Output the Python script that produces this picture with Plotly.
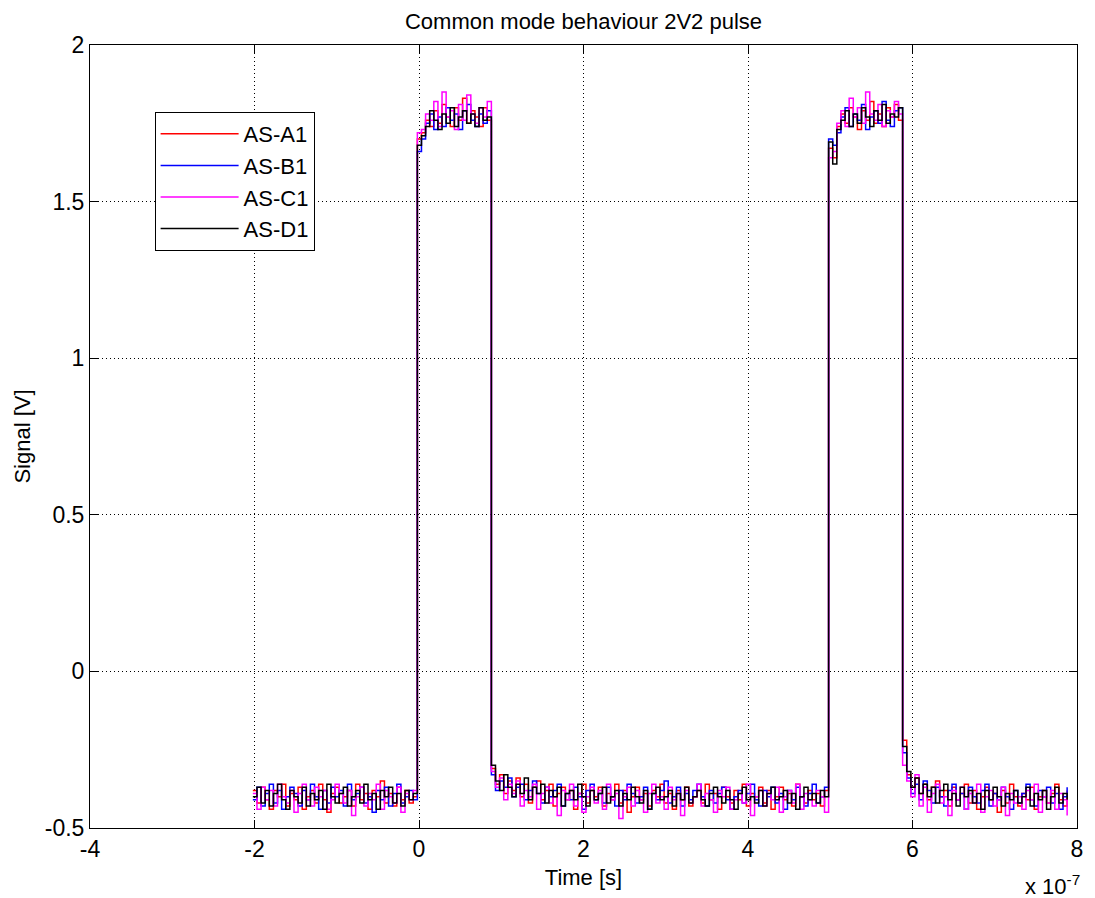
import plotly.graph_objects as go

# Sampling times in ns (uniform 5 ns grid from -200 ns to 790 ns)
t_ns = list(range(-200, 791, 5))

# ---- series values (V) ----
as_a1 = [
    # -200 .. -5 ns (low)
    -0.38, -0.42, -0.37, -0.41, -0.44, -0.38, -0.40, -0.36, -0.43, -0.39,
    -0.41, -0.37, -0.44, -0.40, -0.38, -0.42, -0.36, -0.41, -0.45, -0.39,
    -0.37, -0.42, -0.40, -0.38, -0.43, -0.36, -0.41, -0.39, -0.44, -0.38,
    -0.40, -0.35, -0.42, -0.39, -0.43, -0.37, -0.41, -0.38, -0.42, -0.40,
    # 0 .. 85 ns (high)
    1.70,
    1.72, 1.76, 1.74, 1.79, 1.75, 1.81, 1.77, 1.74, 1.80, 1.76, 1.83, 1.75, 1.79, 1.77, 1.74, 1.80, 1.76,
    # 90 .. 495 ns (low)
    -0.31, -0.36, -0.33, -0.39, -0.35, -0.38, -0.34, -0.40, -0.36, -0.42,
    -0.37, -0.35, -0.41, -0.38, -0.36, -0.43, -0.39, -0.37, -0.41, -0.38,
    -0.44, -0.39, -0.36, -0.42, -0.38, -0.40, -0.37, -0.43, -0.39, -0.41,
    -0.36, -0.42, -0.38, -0.45, -0.40, -0.37, -0.41, -0.39, -0.43, -0.38,
    -0.40, -0.36, -0.42, -0.39, -0.44, -0.38, -0.41, -0.37, -0.43, -0.40,
    -0.38, -0.42, -0.36, -0.41, -0.39, -0.44, -0.37, -0.40, -0.42, -0.38,
    -0.41, -0.36, -0.43, -0.39, -0.40, -0.37, -0.42, -0.38, -0.44, -0.40,
    -0.37, -0.41, -0.39, -0.43, -0.36, -0.40, -0.42, -0.38, -0.41, -0.39,
    -0.43, -0.38,
    # 500 .. 585 ns (high)
    1.67,
    1.64, 1.74, 1.78, 1.75, 1.80, 1.77, 1.73, 1.79, 1.76, 1.82, 1.75, 1.78, 1.74, 1.80, 1.77, 1.81, 1.76,
    # 590 .. 790 ns (low)
    -0.22, -0.33, -0.37, -0.34, -0.39, -0.36, -0.41, -0.37, -0.35, -0.40,
    -0.38, -0.43, -0.37, -0.41, -0.39, -0.36, -0.42, -0.38, -0.44, -0.40,
    -0.37, -0.41, -0.39, -0.45, -0.38, -0.42, -0.36, -0.40, -0.43, -0.39,
    -0.41, -0.37, -0.44, -0.40, -0.38, -0.42, -0.39, -0.36, -0.41, -0.43,
    -0.38,
]

as_b1 = [
    -0.41, -0.37, -0.43, -0.39, -0.36, -0.42, -0.38, -0.44, -0.40, -0.37,
    -0.39, -0.43, -0.38, -0.41, -0.36, -0.40, -0.44, -0.38, -0.42, -0.37,
    -0.40, -0.38, -0.43, -0.36, -0.41, -0.39, -0.37, -0.42, -0.40, -0.45,
    -0.38, -0.41, -0.37, -0.43, -0.39, -0.36, -0.42, -0.40, -0.38, -0.41,
    1.66,
    1.70, 1.75, 1.78, 1.73, 1.77, 1.74, 1.80, 1.76, 1.78, 1.73, 1.79, 1.81, 1.76, 1.74, 1.78, 1.75, 1.79,
    -0.33, -0.38, -0.35, -0.37, -0.34, -0.40, -0.37, -0.36, -0.41, -0.38,
    -0.35, -0.39, -0.42, -0.37, -0.40, -0.38, -0.36, -0.43, -0.39, -0.41,
    -0.37, -0.40, -0.44, -0.38, -0.36, -0.41, -0.39, -0.42, -0.37, -0.40,
    -0.43, -0.38, -0.41, -0.36, -0.39, -0.42, -0.40, -0.37, -0.44, -0.39,
    -0.41, -0.38, -0.35, -0.42, -0.40, -0.37, -0.43, -0.39, -0.41, -0.38,
    -0.36, -0.40, -0.43, -0.38, -0.42, -0.39, -0.37, -0.41, -0.44, -0.40,
    -0.38, -0.42, -0.39, -0.36, -0.41, -0.43, -0.38, -0.40, -0.37, -0.42,
    -0.39, -0.44, -0.38, -0.41, -0.37, -0.40, -0.43, -0.39, -0.36, -0.42,
    -0.40, -0.37,
    1.70,
    1.68, 1.72, 1.77, 1.80, 1.74, 1.78, 1.76, 1.81, 1.73, 1.77, 1.79, 1.75, 1.82, 1.76, 1.74, 1.79, 1.80,
    -0.26, -0.34, -0.39, -0.36, -0.41, -0.35, -0.38, -0.42, -0.37, -0.40,
    -0.43, -0.38, -0.36, -0.41, -0.39, -0.44, -0.37, -0.40, -0.42, -0.38,
    -0.36, -0.43, -0.39, -0.41, -0.37, -0.40, -0.44, -0.38, -0.42, -0.39,
    -0.36, -0.41, -0.43, -0.38, -0.40, -0.37, -0.42, -0.39, -0.44, -0.40,
    -0.37,
]

as_c1 = [
    -0.39, -0.44, -0.37, -0.41, -0.38, -0.43, -0.36, -0.40, -0.42, -0.38,
    -0.45, -0.39, -0.36, -0.41, -0.43, -0.37, -0.40, -0.38, -0.44, -0.41,
    -0.36, -0.39, -0.42, -0.38, -0.46, -0.40, -0.37, -0.43, -0.39, -0.41,
    -0.36, -0.44, -0.38, -0.40, -0.42, -0.37, -0.45, -0.39, -0.41, -0.38,
    1.72,
    1.73, 1.78, 1.76, 1.82, 1.74, 1.85, 1.77, 1.79, 1.73, 1.81, 1.76, 1.84, 1.78, 1.75, 1.80, 1.77, 1.82,
    -0.32, -0.37, -0.34, -0.41, -0.36, -0.39, -0.35, -0.43, -0.38, -0.40,
    -0.36, -0.44, -0.39, -0.37, -0.42, -0.40, -0.46, -0.38, -0.41, -0.36,
    -0.43, -0.39, -0.45, -0.40, -0.37, -0.42, -0.38, -0.44, -0.36, -0.41,
    -0.39, -0.47, -0.40, -0.37, -0.43, -0.38, -0.41, -0.45, -0.39, -0.36,
    -0.42, -0.40, -0.44, -0.37, -0.41, -0.39, -0.46, -0.38, -0.42, -0.40,
    -0.36, -0.43, -0.39, -0.41, -0.45, -0.38, -0.40, -0.37, -0.44, -0.41,
    -0.39, -0.42, -0.36, -0.46, -0.40, -0.38, -0.43, -0.39, -0.41, -0.37,
    -0.45, -0.40, -0.38, -0.42, -0.36, -0.44, -0.39, -0.41, -0.43, -0.38,
    -0.40, -0.45,
    1.64,
    1.66, 1.75, 1.79, 1.74, 1.83, 1.77, 1.80, 1.75, 1.85, 1.78, 1.76, 1.81, 1.74, 1.79, 1.77, 1.82, 1.78,
    -0.30, -0.35, -0.40, -0.33, -0.43, -0.37, -0.45, -0.39, -0.36, -0.42,
    -0.40, -0.46, -0.38, -0.41, -0.37, -0.44, -0.39, -0.42, -0.36, -0.45,
    -0.40, -0.38, -0.43, -0.41, -0.37, -0.46, -0.39, -0.42, -0.40, -0.44,
    -0.38, -0.41, -0.36, -0.45, -0.40, -0.42, -0.38, -0.44, -0.39, -0.41,
    -0.46,
]

as_d1 = [
    -0.40, -0.37, -0.42, -0.38, -0.43, -0.39, -0.36, -0.41, -0.44, -0.38,
    -0.40, -0.42, -0.37, -0.43, -0.39, -0.41, -0.38, -0.44, -0.36, -0.40,
    -0.42, -0.39, -0.37, -0.43, -0.40, -0.38, -0.42, -0.36, -0.41, -0.39,
    -0.44, -0.38, -0.40, -0.37, -0.42, -0.39, -0.43, -0.38, -0.41, -0.39,
    1.68,
    1.71, 1.74, 1.79, 1.76, 1.73, 1.78, 1.75, 1.80, 1.74, 1.77, 1.79, 1.75, 1.78, 1.74, 1.80, 1.76, 1.77,
    -0.30, -0.35, -0.38, -0.33, -0.37, -0.40, -0.36, -0.39, -0.34, -0.41,
    -0.37, -0.39, -0.36, -0.42, -0.38, -0.40, -0.37, -0.43, -0.39, -0.38,
    -0.41, -0.36, -0.40, -0.43, -0.38, -0.41, -0.39, -0.37, -0.42, -0.40,
    -0.38, -0.43, -0.39, -0.41, -0.37, -0.40, -0.42, -0.38, -0.44, -0.39,
    -0.37, -0.41, -0.40, -0.38, -0.43, -0.39, -0.41, -0.37, -0.42, -0.40,
    -0.38, -0.41, -0.43, -0.39, -0.37, -0.40, -0.42, -0.38, -0.41, -0.44,
    -0.39, -0.37, -0.41, -0.40, -0.42, -0.38, -0.43, -0.39, -0.37, -0.41,
    -0.40, -0.38, -0.42, -0.39, -0.44, -0.40, -0.37, -0.41, -0.39, -0.42,
    -0.38, -0.40,
    1.69,
    1.62, 1.73, 1.76, 1.79, 1.74, 1.78, 1.75, 1.80, 1.77, 1.74, 1.79, 1.76, 1.81, 1.75, 1.78, 1.77, 1.80,
    -0.24, -0.32, -0.37, -0.34, -0.39, -0.36, -0.40, -0.37, -0.42, -0.38,
    -0.36, -0.41, -0.39, -0.43, -0.37, -0.40, -0.38, -0.42, -0.39, -0.44,
    -0.38, -0.41, -0.37, -0.40, -0.43, -0.39, -0.41, -0.38, -0.42, -0.40,
    -0.37, -0.43, -0.39, -0.41, -0.38, -0.44, -0.40, -0.37, -0.42, -0.39,
    -0.41,
]

series_names = ["AS-A1", "AS-B1", "AS-C1", "AS-D1"]
series_colors = ["#ff0000", "#0000ff", "#ff00ff", "#000000"]

x_tickvals_e7 = [-4, -2, 0, 2, 4, 6, 8]
x_ticktext = ["-4", "-2", "0", "2", "4", "6", "8"]
y_tickvals = [-0.5, 0, 0.5, 1, 1.5, 2]
y_ticktext = ["-0.5", "0", "0.5", "1", "1.5", "2"]

for s in (as_a1, as_b1, as_c1, as_d1):
    assert len(s) == len(t_ns), (len(s), len(t_ns))

FONT = "Liberation Sans, Arial, Helvetica, sans-serif"

t_s = [(v - 2.0) * 1e-9 for v in t_ns]

fig = go.Figure()
for name, vals, col in zip(series_names, (as_a1, as_b1, as_c1, as_d1), series_colors):
    fig.add_trace(go.Scatter(x=t_s, y=vals, mode="lines", name=name,
                             line=dict(color=col, width=1.5, shape="hv")))

axis_common = dict(
    showline=True, linecolor="black", linewidth=1, mirror="ticks",
    ticks="inside", ticklen=8, tickcolor="black", tickwidth=1,
    showgrid=True, gridcolor="black", gridwidth=1, griddash="1px,3px",
    zeroline=False, tickfont=dict(family=FONT, size=23, color="black"),
)

fig.update_layout(
    width=1095, height=898,
    margin=dict(l=90, r=12, t=45, b=70),
    paper_bgcolor="white", plot_bgcolor="white",
    font=dict(family=FONT, size=22, color="black"),
    title=dict(text="Common mode behaviour 2V2 pulse", x=0.5, xref="paper",
               y=1 - 21 / 898, yref="container", yanchor="middle", xanchor="center",
               font=dict(family=FONT, size=22, color="black")),
    xaxis=dict(range=[-4e-7, 8e-7], tickvals=[v * 1e-7 for v in x_tickvals_e7],
               ticktext=x_ticktext,
               title=dict(text="Time [s]", standoff=9,
                          font=dict(family=FONT, size=22)),
               **axis_common),
    yaxis=dict(range=[-0.5, 2], tickvals=y_tickvals, ticktext=y_ticktext,
               title=dict(text="Signal [V]", standoff=8,
                          font=dict(family=FONT, size=22)),
               **axis_common),
    legend=dict(x=(155 - 90) / 993, y=(828 - 112) / 783, xanchor="left", yanchor="top",
                bgcolor="white", bordercolor="black", borderwidth=1,
                font=dict(family=FONT, size=22, color="black"),
                itemwidth=78, tracegroupgap=0),
    annotations=[dict(text="x 10<sup>-7</sup>", xref="paper", yref="paper",
                      x=(1088 - 90) / 993, y=(828 - 885) / 783,
                      xanchor="right", yanchor="middle", showarrow=False,
                      font=dict(family=FONT, size=22, color="black"))],
    showlegend=True,
)

fig.write_html("out.html")
